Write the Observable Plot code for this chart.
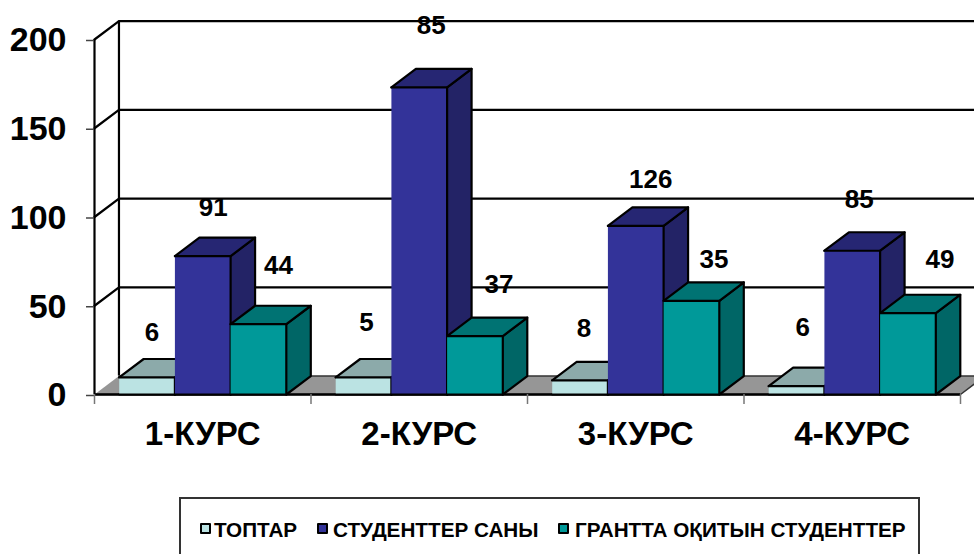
<!DOCTYPE html>
<html><head><meta charset="utf-8">
<style>
html,body{margin:0;padding:0;background:#fff;overflow:hidden;width:974px;height:554px;font-family:"Liberation Sans",Arial,sans-serif}
#chart{position:absolute;left:0;top:0}
#legend{position:absolute;left:179px;top:497px;width:741px;height:70px;border:2px solid #333;box-sizing:border-box;background:#fff}
.sw{position:absolute;top:24px;width:7px;height:7px;border:2.5px solid #000;border-radius:1px}
.lb{position:absolute;top:20px;font-weight:bold;font-size:20.7px;line-height:22px;color:#000;white-space:nowrap}
</style></head><body>
<div id="chart"></div>
<div id="legend"></div>
<script src="https://cdn.jsdelivr.net/npm/d3@7"></script>
<script src="https://cdn.jsdelivr.net/npm/@observablehq/plot@0.6"></script>
<script>
// Data: bar heights as read against the value axis, and the printed labels
const categories = ["1-КУРС", "2-КУРС", "3-КУРС", "4-КУРС"];
const seriesNames = ["ТОПТАР", "СТУДЕНТТЕР САНЫ", "ГРАНТТА ОҚИТЫН СТУДЕНТТЕР"];
const groupsHeight = [9.6, 9.6, 8, 4.7];
const studentsHeight = [78, 173, 95, 81];
const grantHeight = [39.6, 32.9, 52.8, 45.8];
const groupsLabel = [6, 5, 8, 6];
const studentsLabel = [91, 85, 126, 85];
const grantLabel = [44, 37, 35, 49];
const yTicks = [0, 50, 100, 150, 200];

// Hand-placed label offsets of the original (value units above bar, category units right)
const groupsLift = [25, 31, 29, 33];
const studentsLift = [27, 35, 26, 29];
const grantLift = [33, 29, 23, 30];
const groupsShift = [0.023, 0.014, 0.018, 0.028];
const studentsShift = [0.048, 0.055, 0.069, 0.032];
const grantShift = [0.092, 0.111, 0.104, 0.148];

// Faces: front, top, side
const frontColors = ["#BBE3E3", "#333399", "#009999"];
const topColors = ["#8CAAAA", "#262673", "#007373"];
const sideColors = ["#7D9898", "#232366", "#006666"];

const heights = [groupsHeight, studentsHeight, grantHeight];
const labels = [groupsLabel, studentsLabel, grantLabel];
const lifts = [groupsLift, studentsLift, grantLift];
const shifts = [groupsShift, studentsShift, grantShift];

const depthX = 0.113, depthY = 10.4;   // oblique depth of the 3-D box
const barW = 0.2573, sideGap = 0.1141;

let faceId = 0;
function poly(points, fill, out) {
  const id = faceId++;
  for (const [x, y] of points) out.push({x, y, id, fill});
}
const wall = [], floor = [], faces = [], valueLabels = [];
const n = categories.length;

// Grid on back wall and left wall
for (const v of yTicks.slice(1)) {
  const id = faceId++;
  wall.push({x: 0, y: v, id}, {x: depthX, y: v + depthY, id}, {x: n + depthX, y: v + depthY, id});
}
poly([[0, 0], [n, 0], [n + depthX, depthY], [depthX, depthY]], "#969696", floor);

categories.forEach((c, i) => {
  heights.forEach((hs, s) => {
    const h = hs[i];
    const x0 = i + sideGap + s * barW, x1 = x0 + barW;
    poly([[x1, 0], [x1 + depthX, depthY], [x1 + depthX, h + depthY], [x1, h]], sideColors[s], faces);
    poly([[x0, h], [x0 + depthX, h + depthY], [x1 + depthX, h + depthY], [x1, h]], topColors[s], faces);
    poly([[x0, 0], [x1, 0], [x1, h], [x0, h]], frontColors[s], faces);
    valueLabels.push({
      x: (x0 + x1) / 2 + shifts[s][i],
      y: h + lifts[s][i],
      t: String(labels[s][i])
    });
  });
});

const plot = Plot.plot({
  width: 974, height: 490,
  marginLeft: 94, marginRight: 14, marginTop: 39, marginBottom: 96,
  style: {fontFamily: '"Liberation Sans", Arial, sans-serif', background: "#fff"},
  x: {type: "linear", domain: [0, n]},
  y: {domain: [0, 200]},
  color: {type: "identity"},
  marks: [
    Plot.line(wall, {x: "x", y: "y", z: "id", stroke: "#000", strokeWidth: 2.2, curve: "linear"}),
    Plot.ruleX([0], {y1: 0, y2: 200, stroke: "#000", strokeWidth: 2.2}),
    Plot.ruleX([depthX], {y1: depthY, y2: 200 + depthY, stroke: "#000", strokeWidth: 2.2}),
    Plot.line(floor, {x: "x", y: "y", z: "id", fill: "fill", stroke: "#333", strokeWidth: 1.5}),
    Plot.ruleY([0], {stroke: "#000", strokeWidth: 2.5}),
    Plot.axisY({ticks: yTicks, tickSize: 8, tickPadding: 20, fontSize: 34, fontWeight: "bold", label: null, strokeWidth: 1.5, color: "#000", stroke: "#444", dy: 1}),
    Plot.axisX({ticks: d3.range(n + 1), tickSize: 10, tickFormat: () => "", label: null, strokeWidth: 1.5, stroke: "#777"}),
    Plot.axisX({ticks: categories.map((c, i) => i + 0.5), tickSize: 0, tickPadding: 27,
      tickFormat: (t) => categories[Math.floor(t)], fontSize: 33, fontWeight: "bold", label: null}),
    Plot.line(faces, {x: "x", y: "y", z: "id", fill: "fill", stroke: "#000", strokeWidth: 2.2, strokeLinejoin: "round"}),
    Plot.text(valueLabels, {x: "x", y: "y", text: "t", fontSize: 26, fontWeight: "bold", fill: "#000"})
  ]
});
document.getElementById("chart").appendChild(plot);

// Legend over the SVG's lower edge, built from the same names and colours
const legend = document.getElementById("legend");
const swatchX = [19, 136, 377], textX = [33, 152, 394];
seriesNames.forEach((name, s) => {
  const sw = document.createElement("div");
  sw.className = "sw"; sw.style.left = swatchX[s] + "px"; sw.style.background = frontColors[s];
  const lb = document.createElement("div");
  lb.className = "lb"; lb.style.left = textX[s] + "px"; lb.textContent = name;
  legend.append(sw, lb);
});
</script>
</body></html>
